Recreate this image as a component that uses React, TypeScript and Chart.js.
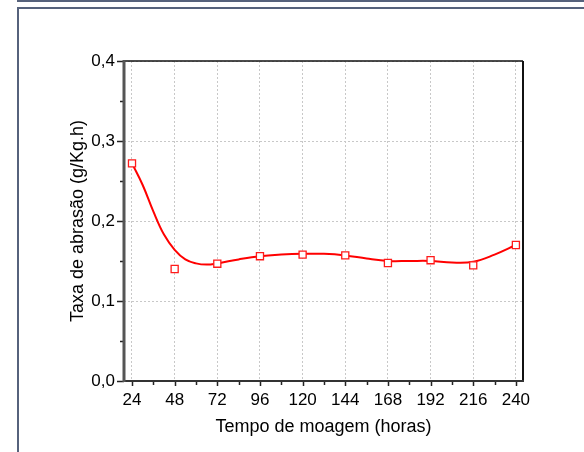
import { useEffect, useRef } from 'react';
import { Chart, registerables } from 'chart.js';

Chart.register(...registerables);

// Measured abrasion rate at each milling time
const hours = [24, 48, 72, 96, 120, 144, 168, 192, 216, 240];
const abrasionRate = [0.272, 0.14, 0.1466, 0.156, 0.158, 0.157, 0.1475, 0.151, 0.1446, 0.17];

// Smoothed fit curve through the measurements
const fitHours = [24, 30, 36, 42, 48, 54, 60, 66, 72, 84, 96, 108, 120, 132, 144, 156, 168, 180, 192, 204, 216, 228, 240];
const fitRate = [0.272, 0.245, 0.212, 0.183, 0.164, 0.152, 0.147, 0.1455, 0.147, 0.152, 0.156, 0.158, 0.159, 0.159, 0.157, 0.153, 0.15, 0.15, 0.15, 0.148, 0.149, 0.158, 0.17];

// Axis ticks
const xMajorTicks = [24, 48, 72, 96, 120, 144, 168, 192, 216, 240];
const xMinorTicks = [36, 60, 84, 108, 132, 156, 180, 204, 228];
const yMajorTicks = [0, 0.1, 0.2, 0.3, 0.4];
const yMinorTicks = [0.05, 0.15, 0.25, 0.35];

const X_MIN = 19.5;
const X_MAX = 244;

const fmt = (v: number) => v.toFixed(1).replace('.', ',');

// Draws the plot frame and the outward tick marks
const framePlugin = {
  id: 'frame',
  afterDraw(chart: any) {
    const { ctx, chartArea: a, scales } = chart;
    const x = scales.x;
    const y = scales.y;
    ctx.save();
    ctx.lineCap = 'butt';

    // y tick marks
    ctx.strokeStyle = '#222';
    ctx.lineWidth = 1.5;
    ctx.beginPath();
    for (const v of yMajorTicks) {
      const py = Math.round(y.getPixelForValue(v)) + 0.5;
      ctx.moveTo(a.left - 7, py);
      ctx.lineTo(a.left, py);
    }
    for (const v of yMinorTicks) {
      const py = Math.round(y.getPixelForValue(v)) + 0.5;
      ctx.moveTo(a.left - 4, py);
      ctx.lineTo(a.left, py);
    }
    // x tick marks
    for (const v of xMajorTicks) {
      const px = Math.round(x.getPixelForValue(v)) + 0.5;
      ctx.moveTo(px, a.bottom);
      ctx.lineTo(px, a.bottom + 5);
    }
    for (const v of xMinorTicks) {
      const px = Math.round(x.getPixelForValue(v)) + 0.5;
      ctx.moveTo(px, a.bottom);
      ctx.lineTo(px, a.bottom + 4);
    }
    ctx.stroke();

    // top and right border
    ctx.strokeStyle = '#111';
    ctx.lineWidth = 1.5;
    ctx.beginPath();
    ctx.moveTo(a.left, a.top);
    ctx.lineTo(a.right, a.top);
    ctx.stroke();
    ctx.lineWidth = 2;
    ctx.beginPath();
    ctx.moveTo(a.right, a.top);
    ctx.lineTo(a.right, a.bottom + 1);
    ctx.stroke();

    // bottom axis
    ctx.strokeStyle = '#333';
    ctx.lineWidth = 2;
    ctx.beginPath();
    ctx.moveTo(a.left, a.bottom);
    ctx.lineTo(a.right + 1, a.bottom);
    ctx.stroke();

    // left axis
    ctx.strokeStyle = '#555';
    ctx.lineWidth = 3;
    ctx.beginPath();
    ctx.moveTo(a.left, a.top - 1);
    ctx.lineTo(a.left, a.bottom + 1);
    ctx.stroke();

    ctx.restore();
  },
};

export default function App() {
  const canvasRef = useRef<HTMLCanvasElement | null>(null);

  useEffect(() => {
    if (!canvasRef.current) return;
    Chart.defaults.font.family = '"Liberation Sans", Arial, sans-serif';
    Chart.defaults.color = '#000';

    const chart = new Chart(canvasRef.current, {
      type: 'line',
      data: {
        datasets: [
          {
            label: 'Ajuste',
            data: fitHours.map((h, i) => ({ x: h, y: fitRate[i] })),
            borderColor: '#ff0000',
            borderWidth: 2,
            pointRadius: 0,
            tension: 0.4,
            fill: false,
            order: 2,
          },
          {
            label: 'Taxa de abrasão',
            data: hours.map((h, i) => ({ x: h, y: abrasionRate[i] })),
            showLine: false,
            pointStyle: 'rect',
            pointRadius: 5,
            pointBorderWidth: 1.3,
            pointBorderColor: '#ff1a1a',
            pointBackgroundColor: '#ffffff',
            order: 1,
          },
        ],
      },
      options: {
        animation: false,
        responsive: false,
        events: [],
        layout: { padding: { left: 60, top: 61, right: 61, bottom: 14 } },
        plugins: {
          legend: { display: false },
          tooltip: { enabled: false },
        },
        scales: {
          x: {
            type: 'linear',
            min: X_MIN,
            max: X_MAX,
            afterBuildTicks: (s: any) => {
              s.ticks = xMajorTicks.map((v) => ({ value: v }));
            },
            afterFit: (s: any) => {
              s.height = 57;
            },
            grid: {
              color: '#c8c8c8',
              lineWidth: 1,
              drawTicks: false,
            },
            border: { display: false, dash: [2, 2] },
            ticks: {
              font: { size: 17 },
              color: '#000',
              padding: 9,
              maxRotation: 0,
              autoSkip: false,
              callback: (v: any) => String(v),
            },
            title: {
              display: true,
              text: 'Tempo de moagem (horas)',
              font: { size: 18 },
              color: '#000',
              padding: { top: 0, bottom: 0 },
            },
          },
          y: {
            type: 'linear',
            min: 0,
            max: 0.4,
            afterBuildTicks: (s: any) => {
              s.ticks = yMajorTicks.map((v) => ({ value: v }));
            },
            afterFit: (s: any) => {
              s.width = 64;
            },
            grid: {
              color: '#c8c8c8',
              lineWidth: 1,
              drawTicks: false,
            },
            border: { display: false, dash: [2, 2] },
            ticks: {
              font: { size: 17 },
              color: '#000',
              padding: 9,
              callback: (v: any) => fmt(Number(v)),
            },
            title: {
              display: true,
              text: 'Taxa de abrasão (g/Kg.h)',
              font: { size: 18 },
              color: '#000',
              padding: { top: 7, bottom: 0 },
            },
          },
        },
      },
      plugins: [framePlugin],
    });

    return () => chart.destroy();
  }, []);

  return (
    <div style={{ position: 'fixed', left: 0, top: 0, width: 584, height: 452, overflow: 'hidden', background: '#fff' }}>
      <div
        style={{
          position: 'absolute',
          left: 17,
          top: -18,
          width: 600,
          height: 20,
          borderLeft: '2px solid #56627c',
          borderBottom: '2px solid #56627c',
          boxSizing: 'border-box',
        }}
      />
      <div
        style={{
          position: 'absolute',
          left: 17,
          top: 7,
          width: 600,
          height: 460,
          borderLeft: '2px solid #56627c',
          borderTop: '2px solid #56627c',
          boxSizing: 'border-box',
        }}
      />
      <canvas
        ref={canvasRef}
        width={584}
        height={452}
        style={{ position: 'absolute', left: 0, top: 0, width: 584, height: 452 }}
      />
    </div>
  );
}
